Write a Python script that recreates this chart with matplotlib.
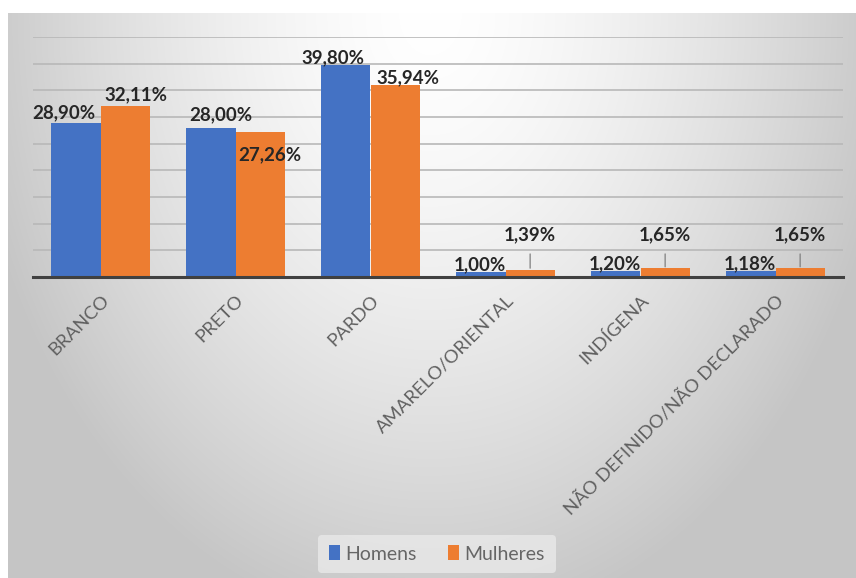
import numpy as np
import matplotlib
matplotlib.use("Agg")
import matplotlib.pyplot as plt

categorias = ["BRANCO", "PRETO", "PARDO", "AMARELO/ORIENTAL", "INDÍGENA",
              "NÃO DEFINIDO/NÃO DECLARADO"]
homens = [28.90, 28.00, 39.80, 1.00, 1.20, 1.18]
mulheres = [32.11, 27.26, 35.94, 1.39, 1.65, 1.65]

# deslocamento dos rotulos (pontos), como o Excel posicionou
dx_h = [-9, 7, -9, -1, -1, -1]
dy_h = [9, 11, 7, 7, 7, 7]
dx_m = [8, 7, 9, 0, 0, 0]
dy_m = [10, -15, 7, 0, 0, 0]

azul = "#4472C4"
laranja = "#ED7D31"

plt.rcParams["font.family"] = ["Lato", "DejaVu Sans"]

fig = plt.figure(figsize=(8.56, 5.78), dpi=100)
fig.patch.set_facecolor("white")

# fundo com gradiente
W, H = 848, 565
xx, yy = np.meshgrid(np.arange(W) + 8, np.arange(H) + 13)
r = np.sqrt(((xx - 430) / 424.0) ** 2 + ((yy - 13) / 565.0) ** 2)
v = 255 - np.minimum(50 * r ** 1.5, 58)
img = np.dstack([v, v, v]).astype(np.uint8)
bg = fig.add_axes([8 / 856, 0, 848 / 856, 565 / 578])
bg.imshow(img, aspect="auto", interpolation="bilinear")
bg.axis("off")

ax = fig.add_axes([33 / 856, 1 - 277 / 578, 810 / 856, 240 / 578])
ax.set_facecolor("none")

x = np.arange(len(categorias))
w = 0.365
bh = ax.bar(x - w / 2, homens, w, color=azul, label="Homens", zorder=3)
bm = ax.bar(x + w / 2, mulheres, w, color=laranja, label="Mulheres", zorder=3)

ax.set_ylim(0, 45)
ax.set_xlim(-0.5, len(categorias) - 0.5)
ax.set_yticks(np.arange(5, 46, 5))
ax.yaxis.grid(True, color="#b8b8b8", lw=1.2, zorder=0)
ax.tick_params(axis="y", left=False, labelleft=False)
for s in ["top", "right", "left"]:
    ax.spines[s].set_visible(False)
ax.spines["bottom"].set_color("#404040")
ax.spines["bottom"].set_linewidth(2.2)
ax.spines["bottom"].set_zorder(4)

ax.set_xticks(x)
ax.set_xticklabels(categorias, rotation=45, ha="right", rotation_mode="anchor",
                   fontsize=13.3, color="#606060")
ax.tick_params(axis="x", length=0, pad=11)

def fmt(v):
    return f"{v:.2f}%".replace(".", ",")

lab = dict(fontsize=13.5, fontweight="bold", color="#262626", ha="center",
           va="bottom", zorder=5)
for i, v in enumerate(homens):
    ax.annotate(fmt(v), (x[i] - w / 2, v), xytext=(dx_h[i], dy_h[i] - 8),
                textcoords="offset points", **lab)
for i, v in enumerate(mulheres):
    if v < 3:
        ax.annotate(fmt(v), (x[i] + w / 2, v), xytext=(x[i] + w / 2, 8.0),
                    textcoords="data", fontsize=13.5, fontweight="bold",
                    color="#262626", ha="center", va="center", zorder=5,
                    arrowprops=dict(arrowstyle="-", color="#7f7f7f", lw=0.9,
                                    shrinkA=6, shrinkB=1))
    else:
        ax.annotate(fmt(v), (x[i] + w / 2, v), xytext=(dx_m[i], dy_m[i] - 8),
                    textcoords="offset points", **lab)

leg = fig.legend(handles=[bh, bm], loc="center", bbox_to_anchor=(437 / 856, 1 - 554 / 578),
                 ncol=2, frameon=True, fontsize=14, handlelength=0.55,
                 handleheight=0.8, handletextpad=0.3, columnspacing=1.6,
                 borderpad=0.55)
leg.get_frame().set_facecolor("#e9e9e9")
leg.get_frame().set_edgecolor("none")
leg.get_frame().set_alpha(0.8)
for t in leg.get_texts():
    t.set_color("#666666")

fig.savefig("out.png", dpi=100)
